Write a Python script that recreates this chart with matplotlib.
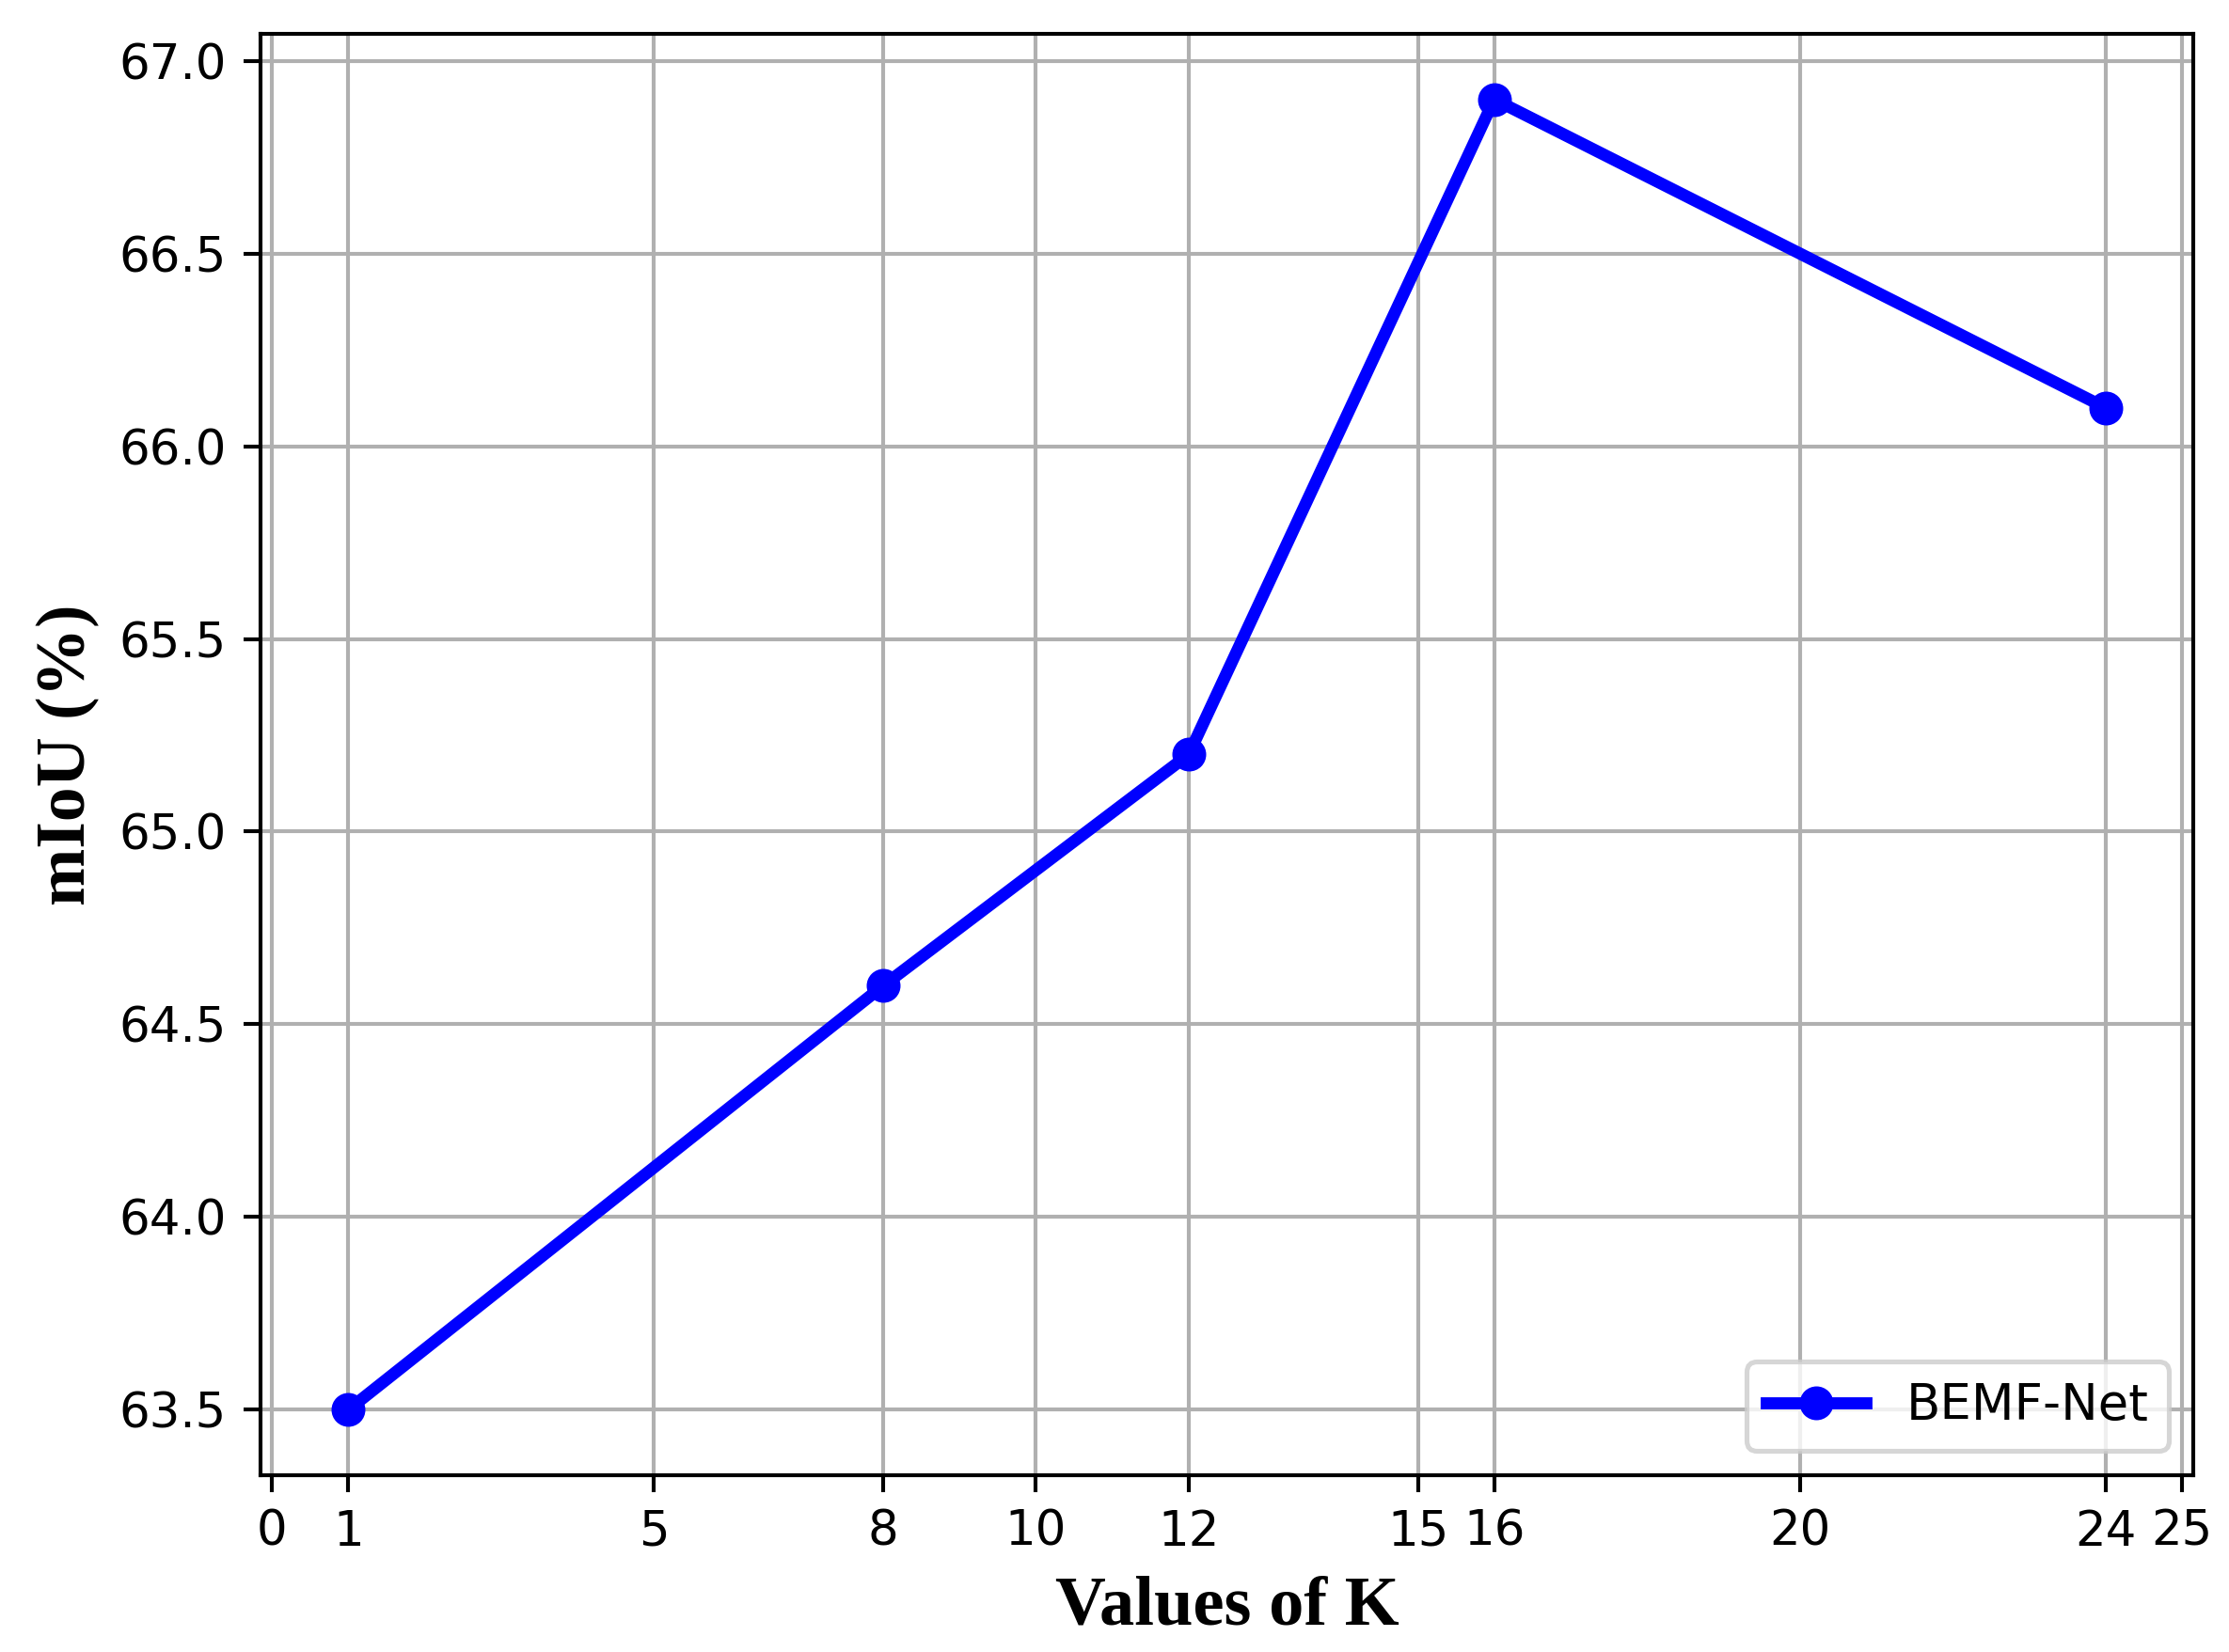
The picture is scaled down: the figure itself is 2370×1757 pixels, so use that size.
import matplotlib
matplotlib.use("Agg")
import matplotlib.pyplot as plt

k_values = [1, 8, 12, 16, 24]
miou = [63.5, 64.6, 65.2, 66.9, 66.1]
xticks = [0, 1, 5, 8, 10, 12, 15, 16, 20, 24, 25]
series_name = "BEMF-Net"

dpi = 370
fig = plt.figure(figsize=(2370 / dpi, 1757 / dpi), dpi=dpi)
ax = fig.add_axes([277 / 2370, 1 - 1569 / 1757, (2332 - 277) / 2370, (1569 - 36) / 1757])

ax.plot(k_values, miou, color="blue", marker="o", linewidth=2.5, markersize=6,
        label=series_name)
ax.set_xticks(xticks)
ax.grid(True)
ax.tick_params(labelsize=10)
ax.set_xlabel("Values of K", fontsize=14.5, fontweight="bold", family="Liberation Serif")
ax.set_ylabel("mIoU (%)", fontsize=14.3, fontweight="bold", family="Liberation Serif")
ax.legend(loc="lower right", fontsize=10.3)

fig.savefig("out.png", dpi=dpi)
